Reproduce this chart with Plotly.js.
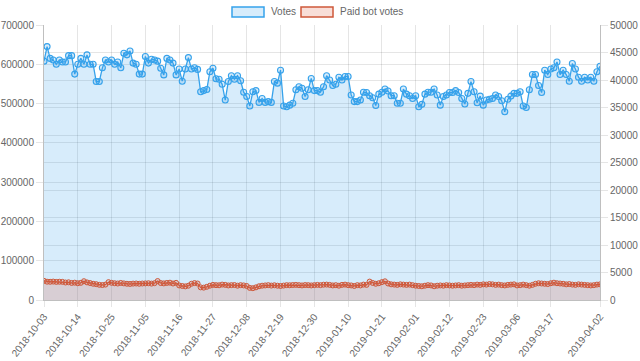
<!DOCTYPE html>
<html>
<head>
<meta charset="utf-8">
<script src="https://cdn.plot.ly/plotly-3.0.1.min.js"></script>
<style>html,body{margin:0;padding:0;background:#fff;}#chart{width:640px;height:361px;}</style>
</head>
<body>
<div id="chart"></div>
<script>
const startDate = '2018-10-03';
const dayCount = 182;

const votes = [
  608000, 645000, 615000, 611000, 600000, 611000, 606000, 606000, 622000, 622000, 575000, 600000, 615000, 600000, 624000, 600000, 600000, 556000, 556000, 591000, 611000, 606000, 611000, 600000, 606000, 591000,
  628000, 624000, 634000, 603000, 600000, 575000, 575000, 620000, 603000, 613000, 611000, 608000, 590000, 573000, 615000, 611000, 603000, 573000, 588000, 557000, 588000, 617000, 588000, 591000, 587000,
  530000, 533000, 536000, 581000, 590000, 563000, 562000, 549000, 509000, 556000, 571000, 562000, 571000, 558000, 529000, 518000, 494000, 530000, 533000, 503000, 513000, 503000, 505000, 503000, 556000, 552000, 585000,
  494000, 492000, 496000, 501000, 535000, 543000, 539000, 518000, 535000, 564000, 533000, 533000, 529000, 543000, 571000, 560000, 546000, 549000, 567000, 560000, 569000, 569000, 522000, 505000, 505000, 509000,
  529000, 528000, 520000, 515000, 495000, 524000, 529000, 537000, 532000, 520000, 520000, 501000, 501000, 537000, 524000, 520000, 513000, 520000, 492000, 498000, 524000, 529000, 529000, 537000, 522000, 496000,
  518000, 522000, 528000, 528000, 533000, 528000, 513000, 499000, 526000, 556000, 530000, 502000, 519000, 496000, 509000, 511000, 513000, 522000, 518000, 507000, 479000, 511000, 519000, 526000, 526000, 530000, 494000, 490000,
  535000, 574000, 574000, 546000, 528000, 585000, 574000, 588000, 591000, 606000, 574000, 585000, 574000, 557000, 602000, 588000, 567000, 557000, 567000, 560000, 567000, 557000, 581000, 595000
];

const paidBotVotes = [
  3480, 3330, 3310, 3350, 3290, 3320, 3300, 3180, 3220, 3100, 3150, 3050, 3120,
  3420, 3200, 3080, 2950, 2880, 2760, 2720, 2800, 3250, 3120, 3050, 3000, 3100,
  3020, 2950, 2920, 2980, 3000, 2950, 3000, 3020, 3050, 2980, 3060, 3450, 3080,
  3020, 3100, 3150, 3000, 3120, 2650, 2550, 2480, 2600, 2950, 3080, 3000,
  2300, 2250, 2400, 2600, 2750, 2700, 2680, 2800, 2750, 2650, 2700, 2720, 2600,
  2700, 2650, 2550, 2200, 2150, 2300, 2500, 2600, 2650, 2700, 2620, 2680, 2600,
  2550, 2620, 2700, 2680, 2720, 2750, 2700, 2650, 2720, 2700, 2650, 2700, 2750,
  2700, 2780, 2800, 2750, 2650, 2700, 2600, 2750, 2800, 2700, 2650, 2550, 2700,
  2650, 2800, 2750, 3350, 3100, 2950, 3050, 3250, 3400, 3000, 2850, 2800, 2750,
  2850, 2800, 2750, 2800, 2700, 2600, 2550, 2500, 2600, 2700, 2650, 2500, 2600,
  2650, 2600, 2700, 2650, 2600, 2650, 2700, 2600, 2650, 2700, 2750, 2700, 2800,
  2750, 2850, 2800, 2900, 2850, 2750, 2800, 2700, 2650, 2750, 2800, 2850, 2650,
  2700, 2800, 2700, 2600, 2750, 2950, 3050, 3000, 2950, 2900, 3050, 3150, 3050,
  3000, 2950, 2850, 2900, 2800, 2750, 2850, 2800, 2750, 2700, 2650, 2700, 2800, 2850
];

const tickLabels = ['2018-10-03','2018-10-14','2018-10-25','2018-11-05','2018-11-16','2018-11-27','2018-12-08','2018-12-19','2018-12-30','2019-01-10','2019-01-21','2019-02-01','2019-02-12','2019-02-23','2019-03-06','2019-03-17','2019-04-02'];

const leftTicks = [0,100000,200000,300000,400000,500000,600000,700000];
const rightTicks = [0,5000,10000,15000,20000,25000,30000,35000,40000,45000,50000];

// category labels: consecutive days
const dates = [];
const d0 = new Date(startDate + 'T00:00:00Z');
for (let i = 0; i < dayCount; i++) {
  const d = new Date(d0.getTime() + i * 86400000);
  dates.push(d.toISOString().slice(0, 10));
}

const blue = 'rgb(54,162,235)';
const blueFill = 'rgba(54,162,235,0.2)';
const red = 'rgb(206,88,58)';
const redFill = 'rgba(220,90,60,0.2)';
const txt = '#666';
const font = 'Liberation Sans, Arial, sans-serif';

const traces = [
  {
    x: dates, y: votes, name: 'Votes', type: 'scatter', mode: 'lines+markers',
    fill: 'tozeroy', fillcolor: blueFill,
    line: {color: blue, width: 1.3},
    marker: {size: 6, color: blueFill, line: {color: blue, width: 1.1}},
    yaxis: 'y', hoverinfo: 'skip'
  },
  {
    x: dates, y: paidBotVotes, name: 'Paid bot votes', type: 'scatter', mode: 'lines+markers',
    fill: 'tozeroy', fillcolor: redFill,
    line: {color: red, width: 1.1},
    marker: {size: 5, color: redFill, line: {color: red, width: 1}},
    yaxis: 'y2', hoverinfo: 'skip'
  }
];

const grid = 'rgba(0,0,0,0.1)';
const edge = 'rgba(0,0,0,0.25)';

const layout = {
  width: 640, height: 361,
  margin: {l: 44, r: 40, t: 25, b: 61, pad: 0},
  paper_bgcolor: '#fff', plot_bgcolor: '#fff',
  showlegend: false,
  font: {family: font, size: 10, color: txt},
  xaxis: {
    type: 'category', range: [0, dayCount - 1],
    tickmode: 'array', tickvals: tickLabels, ticktext: tickLabels,
    tickangle: -52, ticks: 'outside', ticklen: 6, tickcolor: grid,
    showgrid: true, gridcolor: grid, gridwidth: 1,
    showline: true, linecolor: edge, linewidth: 1,
    zeroline: false, tickfont: {family: font, size: 10, color: txt}
  },
  yaxis: {
    range: [0, 700000], tickmode: 'array', tickvals: leftTicks, tickformat: 'd',
    ticks: 'outside', ticklen: 7, tickcolor: grid,
    showgrid: true, gridcolor: grid, zeroline: false,
    showline: true, linecolor: edge, linewidth: 1,
    tickfont: {family: font, size: 10, color: txt}
  },
  yaxis2: {
    range: [0, 50000], overlaying: 'y', side: 'right', tickmode: 'array', tickvals: rightTicks, tickformat: 'd',
    ticks: 'outside', ticklen: 7, tickcolor: grid,
    showgrid: true, gridcolor: grid, zeroline: false,
    showline: true, linecolor: edge, linewidth: 1,
    tickfont: {family: font, size: 10, color: txt}
  },
  shapes: [
    {type: 'rect', xref: 'paper', yref: 'paper', x0: (232-44)/556, x1: (264-44)/556, y0: (300-17)/275, y1: (300-7)/275,
     fillcolor: blueFill, line: {color: blue, width: 1.5}},
    {type: 'rect', xref: 'paper', yref: 'paper', x0: (301-44)/556, x1: (333-44)/556, y0: (300-17)/275, y1: (300-7)/275,
     fillcolor: redFill, line: {color: red, width: 1.5}}
  ],
  annotations: [
    {xref: 'paper', yref: 'paper', x: (269-44)/556, y: (300-12)/275, xanchor: 'left', yanchor: 'middle',
     text: 'Votes', showarrow: false, font: {family: font, size: 10, color: txt}},
    {xref: 'paper', yref: 'paper', x: (338-44)/556, y: (300-12)/275, xanchor: 'left', yanchor: 'middle',
     text: 'Paid bot votes', showarrow: false, font: {family: font, size: 10, color: txt}}
  ]
};

Plotly.newPlot('chart', traces, layout, {staticPlot: true, displayModeBar: false});
</script>
</body>
</html>
